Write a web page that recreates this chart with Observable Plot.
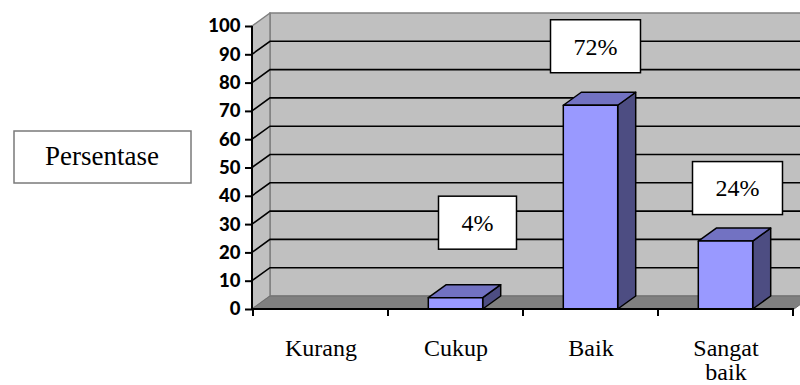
<!DOCTYPE html>
<html>
<head>
<meta charset="utf-8">
<script src="https://cdn.jsdelivr.net/npm/d3@7"></script>
<script src="https://cdn.jsdelivr.net/npm/@observablehq/plot@0.6"></script>
<style>
  html, body { margin: 0; padding: 0; background: #ffffff; }
  #chart svg { display: block; }
  #chart svg g[aria-label="y-axis tick label"],
  #chart svg g[aria-label="y-axis tick label"] text {
    font-family: Lato, "Liberation Sans", sans-serif !important;
    font-weight: 900 !important;
    font-size: 18.5px !important;
  }
</style>
</head>
<body>
<div id="chart"></div>
<script>
// Rating categories and the share of respondents in each (percent)
const categories = ["Kurang", "Cukup", "Baik", "Sangat baik"];
const percentages = [0, 4, 72, 24];
const yTicks = [0, 10, 20, 30, 40, 50, 60, 70, 80, 90, 100];
const axisTitle = "Persentase";

// Hand-placed callout offsets [dx, dy] relative to each bar's top centre (px)
const labelShift = [[0, 0], [22, -75], [5, -59], [12, -53]];

const rows = categories.map((c, i) => ({category: c, value: percentages[i]}));

// Oblique depth of the 3‑D box (px)
const depthX = 18, depthY = -13;
const serif = "'Liberation Serif', 'DejaVu Serif', serif";

function poly(g, pts, fill, stroke, sw) {
  g.append("polygon")
    .attr("points", pts.map(p => p.join(",")).join(" "))
    .attr("fill", fill)
    .attr("stroke", stroke || "none")
    .attr("stroke-width", sw || 0)
    .attr("stroke-linejoin", "round");
}

// Walls, floor, gridlines, 3‑D bars, axis lines and value callouts
function scene(index, scales, values, dims) {
  const {x, y} = scales;
  const g = d3.create("svg:g");
  const left = dims.marginLeft;
  const right = dims.width - dims.marginRight;
  const y0 = y(0), yTop = y(100);
  const step = x.step();
  const bw = x.bandwidth();

  // back wall
  g.append("rect")
    .attr("x", left + depthX).attr("y", yTop + depthY)
    .attr("width", right - left).attr("height", y0 - yTop)
    .attr("fill", "#c0c0c0").attr("stroke", "#808080").attr("stroke-width", 1.5);
  // side wall
  poly(g, [[left, y0], [left + depthX, y0 + depthY], [left + depthX, yTop + depthY], [left, yTop]],
       "#c0c0c0", "#808080", 1.5);
  // floor
  poly(g, [[left, y0], [right, y0], [right + depthX, y0 + depthY], [left + depthX, y0 + depthY]],
       "#808080", "#6e6e6e", 1);

  // gridlines running along the side wall and the back wall
  for (const t of yTicks) {
    if (t === 0 || t === 100) continue;
    const yy = y(t);
    g.append("polyline")
      .attr("points", `${left},${yy} ${left + depthX},${yy + depthY} ${right + depthX + 20},${yy + depthY}`)
      .attr("fill", "none").attr("stroke", "#000").attr("stroke-width", 1.6);
  }

  // bars
  const frac = 0.403;
  rows.forEach(d => {
    if (!(d.value > 0)) return;
    const cx = x(d.category) + bw / 2;
    const w = step * frac;
    const xl = cx - w / 2, xr = cx + w / 2;
    const yt = y(d.value);
    poly(g, [[xr, yt], [xr + depthX, yt + depthY], [xr + depthX, y0 + depthY], [xr, y0]], "#4d4d82", "#000", 1.5);
    poly(g, [[xl, yt], [xl + depthX, yt + depthY], [xr + depthX, yt + depthY], [xr, yt]], "#7272c2", "#000", 1.5);
    poly(g, [[xl, yt], [xr, yt], [xr, y0], [xl, y0]], "#9999ff", "#000", 1.5);
  });

  // axis lines
  g.append("line").attr("x1", left).attr("x2", left).attr("y1", yTop).attr("y2", y0)
    .attr("stroke", "#000").attr("stroke-width", 2);
  g.append("line").attr("x1", left).attr("x2", right).attr("y1", y0).attr("y2", y0)
    .attr("stroke", "#000").attr("stroke-width", 2);
  // x ticks at the category boundaries
  for (let i = 0; i <= categories.length; i++) {
    const xx = x(categories[0]) + i * step;
    g.append("line").attr("x1", xx).attr("x2", xx).attr("y1", y0).attr("y2", y0 + 7)
      .attr("stroke", "#000").attr("stroke-width", 2);
  }

  // value callouts
  const fs = 24;
  rows.forEach((d, i) => {
    if (!(d.value > 0)) return;
    const label = `${d.value}%`;
    const tw = [...label].reduce((s, ch) => s + (ch === "%" ? 0.833 : 0.5) * fs, 0);
    const bwid = tw + 46, bh = 53;
    const cx = x(d.category) + bw / 2 + labelShift[i][0];
    const cy = y(d.value) + labelShift[i][1];
    g.append("rect")
      .attr("x", cx - bwid / 2).attr("y", cy - bh / 2)
      .attr("width", bwid).attr("height", bh)
      .attr("fill", "#fff").attr("stroke", "#000").attr("stroke-width", 1.5);
    g.append("text")
      .attr("x", cx).attr("y", cy).attr("dy", "0.35em")
      .attr("text-anchor", "middle")
      .attr("font-family", serif).attr("font-size", fs).attr("fill", "#000")
      .text(label);
  });

  // axis title box
  g.append("rect")
    .attr("x", 14).attr("y", 131).attr("width", 177).attr("height", 52)
    .attr("fill", "#fff").attr("stroke", "#7a7a7a").attr("stroke-width", 1.5);
  g.append("text")
    .attr("x", 102).attr("y", 165)
    .attr("text-anchor", "middle")
    .attr("font-family", serif).attr("font-size", 27).attr("fill", "#000")
    .text(axisTitle);

  return g.node();
}

const chart = Plot.plot({
  width: 800,
  height: 385,
  marginLeft: 252,
  marginRight: 6,
  marginTop: 26,
  marginBottom: 76,
  style: {background: "#ffffff", color: "#000", overflow: "visible"},
  x: {type: "band", domain: categories, padding: 0, axis: null},
  y: {domain: [0, 100], axis: null},
  marks: [
    scene,
    Plot.axisY({
      ticks: yTicks,
      tickSize: 7,
      tickPadding: 5,
      strokeWidth: 2,
      fontSize: 18.5,
      fontWeight: "bold",
      fontFamily: "Lato, 'Liberation Sans', sans-serif",
      label: null
    }),
    Plot.axisX({
      tickSize: 0,
      tickPadding: 29,
      fontSize: 24,
      fontFamily: serif,
      tickFormat: d => d.split(" ").join("\n"),
      lineHeight: 1.02,
      label: null
    })
  ]
});

document.getElementById("chart").appendChild(chart);
</script>
</body>
</html>
